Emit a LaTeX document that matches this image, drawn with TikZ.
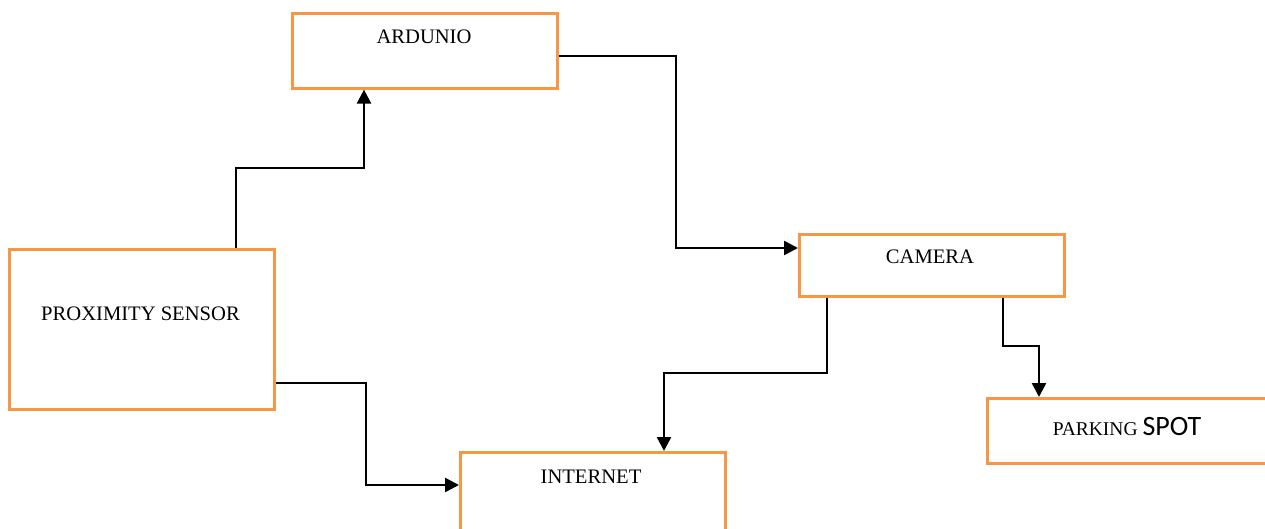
\documentclass[tikz,border=0pt]{standalone}
\usepackage{fontspec}
\setmainfont{Liberation Serif}
\newfontfamily\spotfont{Carlito}
\usetikzlibrary{arrows.meta}
\definecolor{boxorange}{HTML}{F79646}
\begin{document}
\begin{tikzpicture}[x=1pt,y=-1pt,
  box/.style={draw=boxorange,line width=2.6pt,fill=white,rectangle,inner sep=0pt,anchor=north west},
  txt/.style={inner sep=0pt,font=\fontsize{20.6}{24}\selectfont},
  conn/.style={draw=black,line width=2.4pt,-{Triangle[length=14pt,width=14pt]}}]
\useasboundingbox (0,0) rectangle (1265,529);
\clip (0,0) rectangle (1265,529);
\fill[white] (0,0) rectangle (1265,529);
% boxes
\node[box,minimum width=265pt,minimum height=75pt] (ard) at (291,12) {};
\node[box,minimum width=265pt,minimum height=62pt] (cam) at (798,233) {};
\node[box,minimum width=265pt,minimum height=160pt] (prox) at (8,248) {};
\node[box,minimum width=265pt,minimum height=120pt] (net) at (459,451) {};
\node[box,minimum width=320pt,minimum height=65pt] (park) at (986,397) {};
% texts
\node[txt] (tard) at (424,37) {ARDUNIO};
\node[txt] (tcam) at (930,257) {CAMERA};
\node[txt] (tprox) at (140.5,314) {PROXIMITY SENSOR};
\node[txt] (tnet) at (591,477) {INTERNET};
\node[inner sep=0pt,anchor=base] (tpark) at (1127,435) {\fontsize{19.5}{24}\selectfont PARKING {\spotfont\fontsize{28}{30}\selectfont SPOT}};
% bend coordinates
\coordinate (b1) at (236,168);
\coordinate (b1b) at (364,168);
\coordinate (b2) at (676,56);
\coordinate (b2b) at (676,248);
\coordinate (b3) at (827,373);
\coordinate (b3b) at (664,373);
\coordinate (b4) at (1003,346);
\coordinate (b4b) at (1039,346);
\coordinate (b5) at (366,383);
\coordinate (b5b) at (366,485);
% connectors
\draw[conn] (b1 |- prox.north) -- (b1) -- (b1b) -- (b1b |- ard.south);
\draw[conn] (ard.east |- b2) -- (b2) -- (b2b) -- (cam.west |- b2b);
\draw[conn] (b3 |- cam.south) -- (b3) -- (b3b) -- (b3b |- net.north);
\draw[conn] (b4 |- cam.south) -- (b4) -- (b4b) -- (b4b |- park.north);
\draw[conn] (prox.east |- b5) -- (b5) -- (b5b) -- (net.west |- b5b);
\end{tikzpicture}
\end{document}
